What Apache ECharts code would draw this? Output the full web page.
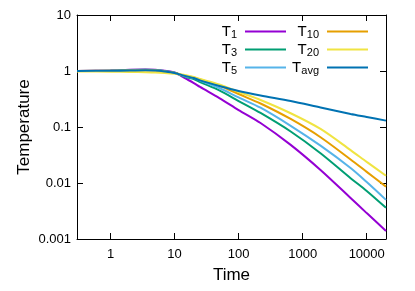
<!DOCTYPE html>
<html>
<head>
<meta charset="utf-8">
<script src="https://cdn.jsdelivr.net/npm/echarts@6/dist/echarts.min.js"></script>
<style>
html,body{margin:0;padding:0;background:#fff;}
#chart{width:415px;height:291px;}
</style>
</head>
<body>
<div id="chart"></div>
<script>
// Data
const times = [0.3, 1, 2, 3.5, 5, 7, 10, 15, 20, 25, 50, 100, 220, 650, 1900, 5600, 10000, 20000];
const T1    = [1.0, 1.02, 1.05, 1.06, 1.05, 1.01, 0.94, 0.73, 0.61, 0.52, 0.329, 0.201, 0.118, 0.048, 0.0171, 0.0054, 0.0029, 0.00139];
const T3    = [1.0, 1.01, 1.04, 1.05, 1.04, 1.00, 0.93, 0.78, 0.72, 0.636, 0.449, 0.291, 0.178, 0.083, 0.034, 0.0122, 0.0072, 0.0036];
const T5    = [1.0, 1.01, 1.03, 1.04, 1.03, 0.99, 0.93, 0.80, 0.75, 0.677, 0.497, 0.337, 0.221, 0.105, 0.0464, 0.0185, 0.0104, 0.0050];
const T10   = [1.0, 1.01, 1.02, 1.03, 1.02, 0.98, 0.92, 0.82, 0.765, 0.705, 0.551, 0.388, 0.263, 0.139, 0.0656, 0.0263, 0.0158, 0.0086];
const T20   = [0.98, 0.97, 0.96, 0.95, 0.94, 0.92, 0.89, 0.84, 0.78, 0.72, 0.574, 0.422, 0.304, 0.176, 0.0923, 0.0387, 0.0238, 0.0135];
const Tavg  = [1.0, 1.01, 1.02, 1.03, 1.02, 0.98, 0.92, 0.81, 0.75, 0.679, 0.54, 0.44, 0.365, 0.291, 0.223, 0.171, 0.151, 0.130];

const seriesNames  = ['T1', 'T3', 'T5', 'T10', 'T20', 'Tavg'];
const seriesValues = [T1, T3, T5, T10, T20, Tavg];
const seriesColors = ['#9400d3', '#009e73', '#56b4e9', '#e69f00', '#f0e442', '#0072b2'];
const xTickLabels = ['1', '10', '100', '1000', '10000'];
const yTickLabels = ['0.001', '0.01', '0.1', '1', '10'];

const FONT = "'Liberation Sans', Arial, sans-serif";
const fmt = v => String(+(+v).toPrecision(6));

const chart = echarts.init(document.getElementById('chart'), null, {renderer: 'canvas'});

const legendBase = {
  orient: 'vertical',
  align: 'right',
  icon: 'rect',
  itemWidth: 41,
  itemHeight: 2,
  itemGap: 1.5,
  padding: 0,
  top: 24,
  selectedMode: false,
  formatter: name => '{t|T}{s|' + name.slice(1) + '}',
  textStyle: {
    color: '#000',
    fontFamily: FONT,
    rich: {
      t: {fontSize: 15, lineHeight: 18, fontFamily: FONT, color: '#000', verticalAlign: 'middle'},
      s: {fontSize: 11, lineHeight: 11, fontFamily: FONT, color: '#000', verticalAlign: 'bottom', padding: [0, 3, 0, 0]}
    }
  }
};

const axisCommonX = {
  type: 'log',
  logBase: 10,
  min: 0.3,
  max: 20000,
  splitLine: {show: false},
  minorTick: {show: false},
  axisLine: {show: true, lineStyle: {color: '#000', width: 1}},
  axisTick: {show: true, inside: true, length: 6, lineStyle: {color: '#000', width: 1}}
};
const axisCommonY = {
  type: 'log',
  logBase: 10,
  min: 0.001,
  max: 10,
  splitLine: {show: false},
  minorTick: {show: false},
  axisLine: {show: true, lineStyle: {color: '#000', width: 1}},
  axisTick: {show: true, inside: true, length: 6, lineStyle: {color: '#000', width: 1}}
};

const option = {
  animation: false,
  backgroundColor: '#fff',
  grid: {left: 77, right: 29, top: 15, bottom: 52, containLabel: false},
  legend: [
    Object.assign({}, legendBase, {right: 415 - 286, data: seriesNames.slice(0, 3)}),
    Object.assign({}, legendBase, {right: 415 - 368, data: seriesNames.slice(3)})
  ],
  xAxis: [
    Object.assign({}, axisCommonX, {
      position: 'bottom',
      name: 'Time',
      nameLocation: 'middle',
      nameGap: 28,
      nameMoveOverlap: false,
      nameTextStyle: {fontSize: 17, fontFamily: FONT, color: '#000'},
      axisLabel: {
        show: true, margin: 9, fontSize: 13, fontFamily: FONT, color: '#000',
        showMinLabel: false, showMaxLabel: false,
        formatter: v => { const s = fmt(v); return xTickLabels.includes(s) ? s : ''; }
      }
    }),
    Object.assign({}, axisCommonX, {position: 'top', axisLabel: {show: false}})
  ],
  yAxis: [
    Object.assign({}, axisCommonY, {
      position: 'left',
      name: 'Temperature',
      nameLocation: 'middle',
      nameGap: 44,
      nameRotate: 90,
      nameMoveOverlap: false,
      nameTextStyle: {fontSize: 17, fontFamily: FONT, color: '#000'},
      axisLabel: {
        show: true, margin: 6, fontSize: 13, fontFamily: FONT, color: '#000',
        formatter: v => { const s = fmt(v); return yTickLabels.includes(s) ? s : ''; }
      }
    }),
    Object.assign({}, axisCommonY, {position: 'right', axisLabel: {show: false}})
  ],
  series: seriesNames.map((name, i) => ({
    name: name,
    type: 'line',
    xAxisIndex: 0,
    yAxisIndex: 0,
    showSymbol: false,
    symbol: 'none',
    smooth: 0.3,
    color: seriesColors[i],
    lineStyle: {color: seriesColors[i], width: 2},
    itemStyle: {color: seriesColors[i]},
    data: times.map((t, k) => [t, seriesValues[i][k]])
  }))
};

chart.setOption(option);
</script>
</body>
</html>
